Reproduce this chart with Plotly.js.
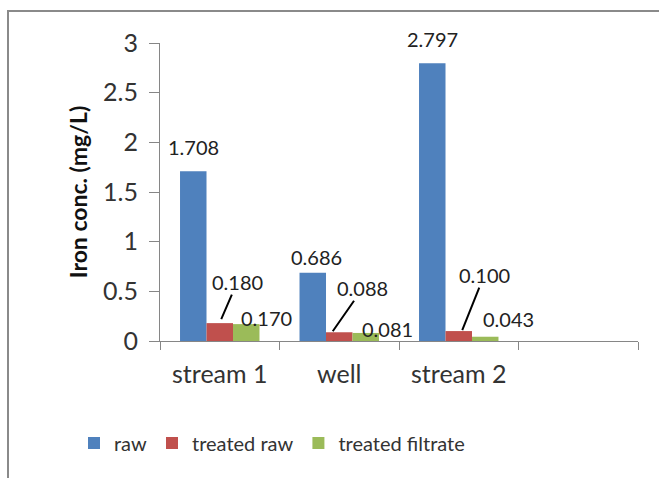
<!DOCTYPE html>
<html>
<head>
<meta charset="utf-8">
<script src="https://cdn.plot.ly/plotly-3.0.1.min.js"></script>
<style>html,body{margin:0;padding:0;background:#fff;}#chart{width:659px;height:478px;}</style>
</head>
<body>
<div id="chart"></div>
<script>
// ---- data ----
const categories = ["stream 1", "well", "stream 2", " "];
const seriesNames = ["raw", "treated raw", "treated filtrate"];
const raw = [1.708, 0.686, 2.797, null];
const treatedRaw = [0.180, 0.088, 0.100, null];
const treatedFiltrate = [0.170, 0.081, 0.043, null];
const yTickVals = [0, 0.5, 1, 1.5, 2, 2.5, 3];
const yTickText = ["0", "0.5", "1", "1.5", "2", "2.5", "3"];

// ---- style ----
const colors = ["#4F81BD", "#C0504D", "#9BBB59"];
const FONT = "Lato, 'Liberation Sans', sans-serif";
const W = 659, H = 478;
const M = {l: 160, r: 21, t: 43, b: 137};
const bargap = 0.335;
const plotW = W - M.l - M.r;
const catPx = plotW / categories.length;
const barPx = catPx * (1 - bargap) / 3;

// label placement (pixel offsets from bar-top centre), style only
const labelOffsets = [
  [[0, -24.5], [3.5, -15.5], [0.5, -24]],
  null,
  [[20, -6.5], [22, -4], [23.5, -18]]
];
const leaderHead = [[1.5, -4], [-6.5, -1], [3.5, -1]];
const leaderText = [[16, -37], [30, -43], [22, -55]];

const series = [raw, treatedRaw, treatedFiltrate];
const traces = series.map((vals, i) => ({
  type: "bar",
  name: seriesNames[i],
  x: categories,
  y: vals,
  marker: {color: colors[i]},
  hoverinfo: "x+y"
}));

const annotations = [];
series.forEach((vals, i) => {
  vals.forEach((v, j) => {
    if (v === null) return;
    const off = (i - 1) * barPx;
    const txt = v.toFixed(3);
    if (i === 1) {
      annotations.push({
        x: categories[j], y: v, xref: "x", yref: "y",
        text: txt, showarrow: true, arrowhead: 0, arrowwidth: 2, arrowcolor: "#000",
        ax: leaderText[j][0], ay: leaderText[j][1],
        xshift: off + leaderHead[j][0], yshift: -leaderHead[j][1],
        standoff: 0, borderpad: 0,
        font: {family: FONT, size: 20, color: "#222"}
      });
    } else {
      const o = labelOffsets[i][j];
      annotations.push({
        x: categories[j], y: v, xref: "x", yref: "y",
        text: txt, showarrow: false,
        xanchor: "center", yanchor: "middle",
        xshift: off + o[0], yshift: -o[1],
        font: {family: FONT, size: 20, color: "#222"}
      });
    }
  });
});

const px2x = px => (px - M.l) / plotW;
const py2y = py => (H - M.b - py) / (H - M.t - M.b);

const layout = {
  width: W, height: H,
  margin: M,
  paper_bgcolor: "#fff", plot_bgcolor: "#fff",
  barmode: "group", bargap: bargap, bargroupgap: 0,
  font: {family: FONT, color: "#333"},
  showlegend: true,
  legend: {
    orientation: "h", x: px2x(272), xanchor: "center", y: py2y(443), yanchor: "middle",
    font: {family: FONT, size: 20, color: "#333"},
    itemclick: false, traceorder: "normal"
  },
  xaxis: {
    type: "category", categoryorder: "array", categoryarray: categories,
    range: [-0.5, categories.length - 0.5],
    tickson: "boundaries", ticks: "outside", ticklen: 8, tickcolor: "#868686",
    showline: true, linecolor: "#868686", linewidth: 1,
    showgrid: false, zeroline: false,
    tickfont: {family: FONT, size: 25, color: "#333"},
    ticklabelstandoff: 11,
    fixedrange: true
  },
  yaxis: {
    range: [0, 3], tickmode: "array", tickvals: yTickVals, ticktext: yTickText,
    ticks: "outside", ticklen: 10, tickcolor: "#868686",
    showline: true, linecolor: "#868686", linewidth: 1,
    showgrid: false, zeroline: false,
    tickfont: {family: FONT, size: 25, color: "#333"},
    ticklabelstandoff: 6,
    title: {text: "Iron conc. (mg/L)", font: {family: FONT, size: 23, color: "#111", weight: "bold"}, standoff: 9},
    fixedrange: true
  },
  annotations: annotations,
  shapes: [{
    type: "rect", xref: "paper", yref: "paper",
    x0: px2x(8), x1: px2x(665), y0: py2y(11), y1: py2y(490),
    line: {color: "#8a8a8a", width: 2}, fillcolor: "rgba(0,0,0,0)", layer: "below"
  }]
};

Plotly.newPlot("chart", traces, layout, {displayModeBar: false, staticPlot: true});
</script>
</body>
</html>
